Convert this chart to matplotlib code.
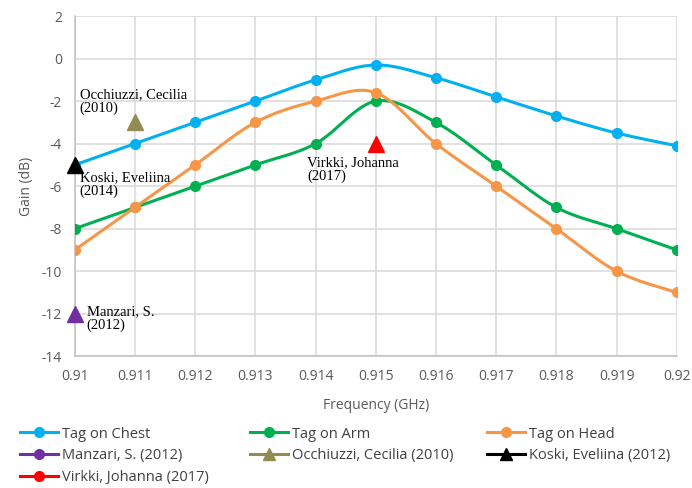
import numpy as np
import matplotlib
matplotlib.use("Agg")
import matplotlib.pyplot as plt
from matplotlib.lines import Line2D

plt.rcParams['axes.unicode_minus'] = False

freq = [0.910, 0.911, 0.912, 0.913, 0.914, 0.915, 0.916, 0.917, 0.918, 0.919, 0.920]
chest = [-5, -4, -3, -2, -1, -0.3, -0.9, -1.8, -2.7, -3.5, -4.1]
arm = [-8, -7, -6, -5, -4, -2, -3, -5, -7, -8, -9]
head = [-9, -7, -5, -3, -2, -1.6, -4, -6, -8, -10, -11]

manzari = (0.910, -12)
occhiuzzi = (0.911, -3)
koski = (0.910, -5)
virkki = (0.915, -4)

xticks = [0.91, 0.911, 0.912, 0.913, 0.914, 0.915, 0.916, 0.917, 0.918, 0.919, 0.92]
xticklabels = ["0.91", "0.911", "0.912", "0.913", "0.914", "0.915", "0.916", "0.917", "0.918", "0.919", "0.92"]
yticks = list(range(-14, 3, 2))

C_CHEST = "#00B0F0"
C_ARM = "#00B050"
C_HEAD = "#F79646"
C_PURPLE = "#7030A0"
C_OLIVE = "#948A54"
C_RED = "#FF0000"


def smooth(x, y, n=30):
    """Excel-like smoothed line: cubic Bezier with Catmull-Rom control points."""
    x = np.asarray(x, float)
    y = np.asarray(y, float)
    px = np.concatenate([[x[0]], x, [x[-1]]])
    py = np.concatenate([[y[0]], y, [y[-1]]])
    xs, ys = [], []
    t = np.linspace(0, 1, n)
    for i in range(len(x) - 1):
        p0 = np.array([px[i + 1], py[i + 1]])
        p3 = np.array([px[i + 2], py[i + 2]])
        c1 = p0 + (np.array([px[i + 2], py[i + 2]]) - np.array([px[i], py[i]])) / 6.0
        c2 = p3 - (np.array([px[i + 3], py[i + 3]]) - np.array([px[i + 1], py[i + 1]])) / 6.0
        b = ((1 - t) ** 3)[:, None] * p0 + (3 * (1 - t) ** 2 * t)[:, None] * c1 \
            + (3 * (1 - t) * t ** 2)[:, None] * c2 + (t ** 3)[:, None] * p3
        xs.extend(b[:, 0])
        ys.extend(b[:, 1])
    return np.array(xs), np.array(ys)


fig = plt.figure(figsize=(6.92, 4.88), dpi=100)
ax = fig.add_axes([0.108, 0.270, 0.870, 0.697])

for vals, col in [(chest, C_CHEST), (arm, C_ARM), (head, C_HEAD)]:
    sx, sy = smooth(freq, vals)
    ax.plot(sx, sy, color=col, lw=2.2, zorder=3, solid_capstyle="round")
    ax.plot(freq, vals, 'o', color=col, ms=7, zorder=4)

ax.plot(*manzari, '^', color=C_PURPLE, ms=11, zorder=5, clip_on=False)
ax.plot(*occhiuzzi, '^', color=C_OLIVE, ms=11, zorder=5, clip_on=False)
ax.plot(*koski, '^', color='black', ms=11, zorder=5, clip_on=False)
ax.plot(*virkki, '^', color=C_RED, ms=11, zorder=5, clip_on=False)

serif = "Liberation Serif"
ax.text(0.91008, -1.4, "Occhiuzzi, Cecilia\n(2010)", family=serif, fontsize=10.5,
        va="top", ha="left", linespacing=1.05, zorder=6)
ax.text(0.91008, -5.3, "Koski, Eveliina\n(2014)", family=serif, fontsize=10.5,
        va="top", ha="left", linespacing=1.05, zorder=6)
ax.text(0.91386, -4.6, "Virkki, Johanna\n(2017)", family=serif, fontsize=10.5,
        va="top", ha="left", linespacing=1.05, zorder=6)
ax.text(0.9102, -11.6, "Manzari, S.\n(2012)", family=serif, fontsize=10.5,
        va="top", ha="left", linespacing=1.05, zorder=6)

ax.set_xlim(0.91, 0.92)
ax.set_ylim(-14, 2)
ax.set_xticks(xticks)
ax.set_xticklabels(xticklabels)
ax.set_yticks(yticks)
ax.grid(True, color="#D9D9D9", lw=1.1)
ax.set_axisbelow(True)
for s in ["top", "right"]:
    ax.spines[s].set_visible(False)
for s in ["left", "bottom"]:
    ax.spines[s].set_color("#BFBFBF")
    ax.spines[s].set_linewidth(1.1)
ax.tick_params(length=0, colors="#595959", labelsize=10, pad=9)
for lab in ax.get_xticklabels() + ax.get_yticklabels():
    lab.set_family("Open Sans")
ax.set_xlabel("Frequency (GHz)", family="Open Sans", fontsize=10, color="#595959", labelpad=10)
ax.set_ylabel("Gain (dB)", family="Open Sans", fontsize=10, color="#595959", labelpad=6)

handles = [
    Line2D([], [], color=C_CHEST, lw=2.2, marker='o', ms=7, label="Tag on Chest"),
    Line2D([], [], color=C_ARM, lw=2.2, marker='o', ms=7, label="Tag on Arm"),
    Line2D([], [], color=C_HEAD, lw=2.2, marker='o', ms=7, label="Tag on Head"),
    Line2D([], [], color=C_PURPLE, lw=2.2, marker='o', ms=7, label="Manzari, S. (2012)"),
    Line2D([], [], color=C_OLIVE, lw=2.2, marker='^', ms=8, label="Occhiuzzi, Cecilia (2010)"),
    Line2D([], [], color='black', lw=2.2, marker='^', ms=8, label="Koski, Eveliina (2012)"),
    Line2D([], [], color=C_RED, lw=2.2, marker='o', ms=7, label="Virkki, Johanna (2017)"),
]
columns = [[0, 3, 6], [1, 4], [2, 5]]
col_x = [20 / 692, 250 / 692, 487 / 692]
for idxs, xpos in zip(columns, col_x):
    hs = [handles[i] for i in idxs]
    leg = fig.legend(hs, [h.get_label() for h in hs],
                     loc="upper left", bbox_to_anchor=(xpos, 0.126), ncol=1, frameon=False,
                     handlelength=2.6, handletextpad=0.25, borderpad=0,
                     labelspacing=0.45, prop={"family": "Open Sans", "size": 10.5},
                     borderaxespad=0)
    for t in leg.get_texts():
        t.set_color("#404040")

fig.savefig("out.png", dpi=100)
